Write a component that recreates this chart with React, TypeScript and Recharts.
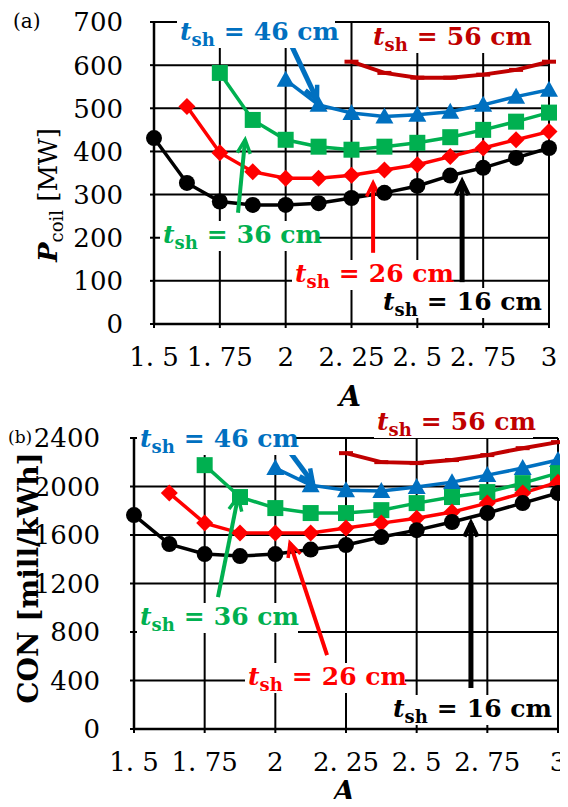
import React from 'react';
import { LineChart, Line, XAxis, YAxis, CartesianGrid, ReferenceLine } from 'recharts';

// A values (aspect ratio) sampled every 0.125
const A_VALUES = [1.5, 1.625, 1.75, 1.875, 2, 2.125, 2.25, 2.375, 2.5, 2.625, 2.75, 2.875, 3];
const X_TICKS = [1.5, 1.75, 2, 2.25, 2.5, 2.75, 3];
const P_TICKS = [0, 100, 200, 300, 400, 500, 600, 700];
const CON_TICKS = [0, 400, 800, 1200, 1600, 2000, 2400];

// (a) P_coil [MW]
const P_16 = [431, 327, 284, 276, 276, 280, 292, 304, 320, 344, 362, 385, 408];
const P_26 = [null, 504, 397, 353, 338, 338, 345, 357, 369, 388, 408, 427, 446];
const P_36 = [null, null, 582, 473, 427, 411, 404, 411, 420, 433, 450, 469, 490];
const P_46 = [null, null, null, null, 566, 508, 489, 481, 485, 492, 508, 527, 543];
const P_56 = [null, null, null, null, null, null, 608, 582, 571, 571, 578, 589, 608];

// (b) CON [mill/kWh]
const C_16 = [1764, 1525, 1443, 1426, 1443, 1480, 1517, 1583, 1640, 1707, 1781, 1863, 1946];
const C_26 = [null, 1946, 1698, 1616, 1616, 1616, 1657, 1698, 1739, 1789, 1863, 1946, 2036];
const C_36 = [null, null, 2176, 1913, 1822, 1781, 1781, 1805, 1863, 1913, 1954, 2028, 2110];
const C_46 = [null, null, null, null, 2152, 2011, 1970, 1962, 1995, 2036, 2094, 2152, 2218];
const C_56 = [null, null, null, null, null, null, 2275, 2201, 2193, 2218, 2259, 2316, 2366];

// annotation arrows, in data coordinates [x1, y1, x2, y2]
const ARROWS_A = [
  { color: '#0070C0', w: 5, pts: [2.024, 643, 2.119, 520] },
  { color: '#00B050', w: 4, pts: [1.819, 258, 1.846, 427] },
  { color: '#FF0000', w: 4, pts: [2.332, 165, 2.332, 327] },
  { color: '#000000', w: 5, pts: [2.67, 97, 2.67, 330] },
];
const ARROWS_B = [
  { color: '#0070C0', w: 5, pts: [2.041, 2317, 2.133, 2028] },
  { color: '#00B050', w: 4, pts: [1.797, 1088, 1.868, 1913] },
  { color: '#FF0000', w: 4, pts: [2.183, 610, 2.052, 1533] },
  { color: '#000000', w: 5, pts: [2.692, 338, 2.692, 1698] },
];

const COLORS = { s16: '#000000', s26: '#FF0000', s36: '#00B050', s46: '#0070C0', s56: '#C00000' };

const buildRows = (s16, s26, s36, s46, s56) =>
  A_VALUES.map((a, i) => ({ a, s16: s16[i], s26: s26[i], s36: s36[i], s46: s46[i], s56: s56[i] }));

const dataA = buildRows(P_16, P_26, P_36, P_46, P_56);
const dataB = buildRows(C_16, C_26, C_36, C_46, C_56);

const marker = (kind: string, color: string) => (props: any) => {
  const { cx, cy, index, value } = props;
  const key = `${kind}-${index}`;
  if (cx == null || cy == null || value == null) return <g key={key} />;
  if (kind === 'circle') return <circle key={key} cx={cx} cy={cy} r={8} fill={color} />;
  if (kind === 'diamond')
    return <polygon key={key} points={`${cx},${cy - 8.5} ${cx + 8.5},${cy} ${cx},${cy + 8.5} ${cx - 8.5},${cy}`} fill={color} />;
  if (kind === 'square') return <rect key={key} x={cx - 8} y={cy - 8} width={16} height={16} fill={color} />;
  if (kind === 'triangle')
    return <polygon key={key} points={`${cx},${cy - 9} ${cx + 9},${cy + 7} ${cx - 9},${cy + 7}`} fill={color} />;
  return <rect key={key} x={cx - 7} y={cy - 2} width={14} height={4} fill={color} />;
};

const SERIES = [
  { key: 's56', kind: 'dash', width: 4 },
  { key: 's46', kind: 'triangle', width: 3.5 },
  { key: 's36', kind: 'square', width: 3.5 },
  { key: 's26', kind: 'diamond', width: 3.5 },
  { key: 's16', kind: 'circle', width: 3.5 },
];

const arrowShape = (color: string, w: number) => (props: any) => {
  const { x1, y1, x2, y2 } = props;
  const ang = Math.atan2(y2 - y1, x2 - x1);
  const h = 15;
  const ax = x2 - h * Math.cos(ang - 0.45);
  const ay = y2 - h * Math.sin(ang - 0.45);
  const bx = x2 - h * Math.cos(ang + 0.45);
  const by = y2 - h * Math.sin(ang + 0.45);
  return (
    <g>
      <line x1={x1} y1={y1} x2={x2} y2={y2} stroke={color} strokeWidth={w} />
      <polyline points={`${ax},${ay} ${x2},${y2} ${bx},${by}`} fill="none" stroke={color} strokeWidth={w - 0.5} strokeLinejoin="miter" />
    </g>
  );
};

const FONT = '"DejaVu Serif", serif';
const tickStyle = { fontSize: 26, fill: '#000', fontFamily: FONT };
const fmtX = (v: number) => String(v).replace('.', '. ');

const yTick = (labelRight: number) => (props: any) => {
  const { y, payload } = props;
  return (
    <text x={labelRight} y={y} dy="0.36em" textAnchor="end" fontSize={26} fill="#000" fontFamily={FONT}>
      {payload.value}
    </text>
  );
};

function Panel({ data, yTicks, yMax, height, margin, yWidth, labelRight, arrows }) {
  return (
    <LineChart width={568} height={height} data={data} margin={margin}>
      <CartesianGrid stroke="#000" strokeWidth={2} horizontalValues={yTicks} verticalValues={X_TICKS} />
      <XAxis
        dataKey="a"
        type="number"
        domain={[1.5, 3]}
        ticks={X_TICKS}
        interval={0}
        tickFormatter={fmtX}
        tick={tickStyle}
        tickSize={4}
        tickMargin={20}
        height={50}
        axisLine={{ stroke: '#000', strokeWidth: 2.5 }}
        tickLine={{ stroke: '#000', strokeWidth: 2 }}
      />
      <YAxis
        type="number"
        domain={[0, yMax]}
        ticks={yTicks}
        interval={0}
        tick={yTick(labelRight)}
        tickSize={4}
        width={yWidth}
        axisLine={{ stroke: '#000', strokeWidth: 2.5 }}
        tickLine={{ stroke: '#000', strokeWidth: 2 }}
      />
      {SERIES.map((s) => (
        <Line
          key={s.key}
          dataKey={s.key}
          stroke={COLORS[s.key]}
          strokeWidth={s.width}
          dot={marker(s.kind, COLORS[s.key])}
          activeDot={false}
          isAnimationActive={false}
        />
      ))}
      {arrows.map((ar, i) => (
        <ReferenceLine
          key={i}
          segment={[{ x: ar.pts[0], y: ar.pts[1] }, { x: ar.pts[2], y: ar.pts[3] }]}
          shape={arrowShape(ar.color, ar.w)}
        />
      ))}
    </LineChart>
  );
}

function TshLabel({ x, y, w, value, color }) {
  return (
    <g>
      <rect x={x - 3} y={y - 22} width={w + 6} height={30} fill="#fff" />
      <text x={x} y={y} fill={color} fontFamily={FONT} fontWeight="bold" fontSize={25}>
        <tspan fontStyle="italic">t</tspan>
        <tspan fontSize={18} dy={6}>sh</tspan>
        <tspan dy={-6} dx={9}>=</tspan>
        <tspan dx={9}>{`${value} cm`}</tspan>
      </text>
    </g>
  );
}

export default function App() {
  return (
    <div style={{ position: 'relative', width: 568, height: 807, margin: -8, background: '#fff', overflow: 'hidden' }}>
      <div style={{ position: 'absolute', left: 0, top: 0 }}>
        <Panel
          data={dataA}
          yTicks={P_TICKS}
          yMax={700}
          height={400}
          margin={{ top: 22, right: 19, left: 0, bottom: 26 }}
          yWidth={154}
          labelRight={123}
          arrows={ARROWS_A}
        />
      </div>
      <div style={{ position: 'absolute', left: 0, top: 400 }}>
        <Panel
          data={dataB}
          yTicks={CON_TICKS}
          yMax={2400}
          height={407}
          margin={{ top: 38, right: 10, left: 0, bottom: 28 }}
          yWidth={134}
          labelRight={100}
          arrows={ARROWS_B}
        />
      </div>
      <svg width={568} height={807} style={{ position: 'absolute', left: 0, top: 0, pointerEvents: 'none' }}>
        <text x={13} y={28} fontFamily={FONT} fontSize={20}>(a)</text>
        <text x={8} y={443} fontFamily={FONT} fontSize={17}>(b)</text>

        <text transform="translate(57,195) rotate(-90)" textAnchor="middle" fontFamily={FONT} fontSize={26}>
          <tspan fontWeight="bold" fontStyle="italic">P</tspan>
          <tspan fontSize={18} dy={6}>coil</tspan>
          <tspan dy={-6}> [MW]</tspan>
        </text>
        <text transform="translate(38,578) rotate(-90)" textAnchor="middle" fontFamily={FONT} fontSize={28} fontWeight="bold">
          CON [mill/kWh]
        </text>

        <text x={350} y={406} textAnchor="middle" fontFamily={FONT} fontSize={28} fontWeight="bold" fontStyle="italic">A</text>
        <text x={344} y={801} textAnchor="middle" fontFamily={FONT} fontSize={28} fontWeight="bold" fontStyle="italic">A</text>

        <TshLabel x={180} y={40} w={152} value={46} color="#0070C0" />
        <TshLabel x={373} y={45} w={154} value={56} color="#C00000" />
        <TshLabel x={163} y={243} w={152} value={36} color="#00B050" />
        <TshLabel x={295} y={282} w={152} value={26} color="#FF0000" />
        <TshLabel x={383} y={310} w={154} value={16} color="#000000" />

        <TshLabel x={140} y={447} w={153} value={46} color="#0070C0" />
        <TshLabel x={377} y={430} w={153} value={56} color="#C00000" />
        <TshLabel x={140} y={625} w={155} value={36} color="#00B050" />
        <TshLabel x={248} y={685} w={154} value={26} color="#FF0000" />
        <TshLabel x={393} y={717} w={154} value={16} color="#000000" />
      </svg>
    </div>
  );
}
